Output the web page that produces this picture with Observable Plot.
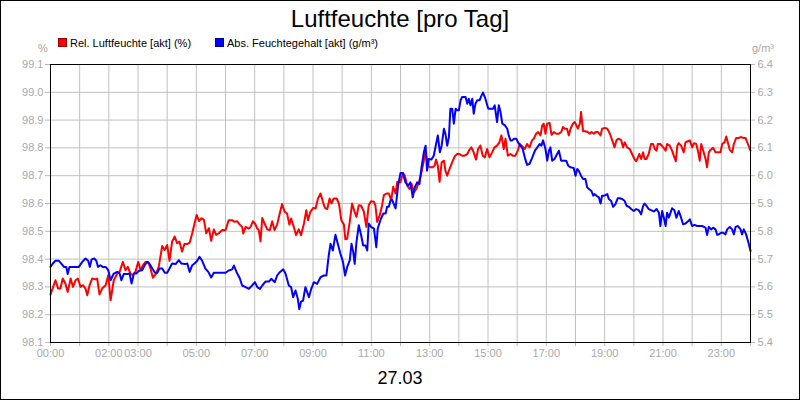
<!DOCTYPE html>
<html>
<head>
<meta charset="utf-8">
<script src="https://cdn.jsdelivr.net/npm/d3@7"></script>
<script src="https://cdn.jsdelivr.net/npm/@observablehq/plot@0.6"></script>
<style>
  body { margin: 0; background: #fff; }
  #wrap { position: relative; width: 800px; height: 400px; background: #fff; font-family: "Liberation Sans", Arial, sans-serif; overflow: hidden; }
  #wrap svg { position: absolute; left: 0; top: 0; }
  .abs { position: absolute; white-space: nowrap; }
  #title { left: 0; width: 800px; top: 4px; text-align: center; font-size: 24px; line-height: 30px; color: #000; }
  #date { left: 0; width: 800px; top: 368px; text-align: center; font-size: 18px; line-height: 20px; color: #000; }
  .leg { top: 37px; font-size: 11px; line-height: 13px; color: #000; }
  .sw { display: inline-block; width: 7px; height: 7px; margin-right: 3px; vertical-align: 0px; }
  .unit { top: 42px; font-size: 11px; line-height: 13px; color: #a8a8a8; }
  #border { left: 0; top: 0; width: 800px; height: 400px; box-sizing: border-box; border: 1px solid #000; pointer-events: none; }
</style>
</head>
<body>
<div id="wrap"></div>
<script>
// ---- data ----
const titleText = "Luftfeuchte [pro Tag]";
const dateText = "27.03";
const seriesNames = ["Rel. Luftfeuchte [akt] (%)", "Abs. Feuchtegehalt [akt] (g/m³)"];
const seriesColors = ["#ff0000", "#0000ff"];
const leftTicks = [98.1, 98.2, 98.3, 98.4, 98.5, 98.6, 98.7, 98.8, 98.9, 99.0, 99.1];
const rightTicks = [5.4, 5.5, 5.6, 5.7, 5.8, 5.9, 6.0, 6.1, 6.2, 6.3, 6.4];
const hourTicks = [0,1,2,3,4,5,6,7,8,9,10,11,12,13,14,15,16,17,18,19,20,21,22,23,24];
const labelledHours = [0, 2, 3, 5, 7, 9, 11, 13, 15, 17, 19, 21, 23];

// [hour, %]
const relHumidity = [
[0.00,98.272],[0.17,98.324],[0.26,98.294],[0.34,98.294],[0.42,98.330],[0.51,98.312],[0.59,98.282],[0.69,98.330],[0.77,98.300],[0.86,98.324],[0.94,98.330],[1.03,98.300],[1.11,98.306],[1.20,98.294],[1.26,98.270],[1.34,98.306],[1.43,98.330],[1.54,98.327],[1.60,98.330],[1.68,98.273],[1.77,98.294],[1.89,98.306],[1.98,98.342],[2.06,98.252],[2.17,98.324],[2.29,98.348],[2.37,98.354],[2.48,98.390],[2.57,98.360],[2.65,98.372],[2.74,98.348],[2.82,98.342],[2.91,98.354],[3.01,98.390],[3.09,98.360],[3.17,98.378],[3.26,98.390],[3.35,98.390],[3.43,98.366],[3.51,98.333],[3.62,98.348],[3.71,98.372],[3.83,98.447],[3.91,98.433],[4.00,98.451],[4.08,98.394],[4.17,98.463],[4.26,98.481],[4.34,98.457],[4.42,98.463],[4.51,98.427],[4.59,98.454],[4.69,98.454],[4.77,98.459],[4.86,98.493],[4.94,98.529],[5.01,98.559],[5.09,98.537],[5.18,98.547],[5.26,98.541],[5.34,98.493],[5.43,98.511],[5.51,98.466],[5.60,98.507],[5.68,98.487],[5.77,98.493],[5.89,98.505],
[6.00,98.504],[6.11,98.540],[6.23,98.540],[6.31,98.534],[6.40,98.536],[6.49,98.524],[6.57,98.516],[6.61,98.492],[6.69,98.516],[6.80,98.510],[6.86,98.516],[6.94,98.536],[7.01,98.528],[7.09,98.510],[7.14,98.504],[7.20,98.464],[7.26,98.548],[7.34,98.528],[7.43,98.507],[7.52,98.504],[7.60,98.536],[7.68,98.504],[7.77,98.524],[7.86,98.564],[7.94,98.598],[8.03,98.570],[8.11,98.564],[8.19,98.524],[8.25,98.546],[8.34,98.516],[8.42,98.486],[8.51,98.507],[8.59,98.486],[8.69,98.528],[8.77,98.576],[8.83,98.540],[8.91,98.570],[9.01,98.584],[9.09,98.582],[9.17,98.618],[9.26,98.636],[9.34,98.606],[9.41,98.584],[9.49,98.580],[9.57,98.618],[9.63,98.600],[9.71,98.618],[9.81,98.618],[9.89,98.600],[9.97,98.540],[10.06,98.524],[10.11,98.471],[10.17,98.473],[10.26,98.534],[10.34,98.600],[10.42,98.572],[10.49,98.552],[10.57,98.594],[10.65,98.592],[10.74,98.572],[10.83,98.516],[10.91,98.594],[10.99,98.608],[11.09,98.606],[11.14,98.592],[11.20,98.534],[11.29,98.558],[11.37,98.594],[11.43,98.630],[11.52,98.636],[11.60,98.636],[11.68,98.612],[11.75,98.660],[11.83,98.636],[11.89,98.678],
[12.00,98.676],[12.08,98.710],[12.15,98.700],[12.23,98.664],[12.31,98.652],[12.38,98.670],[12.46,98.640],[12.54,98.652],[12.63,98.676],[12.72,98.712],[12.80,98.754],[12.86,98.790],[12.94,98.736],[13.01,98.730],[13.09,98.730],[13.17,98.736],[13.22,98.758],[13.28,98.736],[13.34,98.678],[13.41,98.748],[13.49,98.754],[13.54,98.718],[13.60,98.700],[13.68,98.724],[13.77,98.748],[13.86,98.770],[13.94,98.778],[14.02,98.778],[14.11,98.772],[14.19,98.772],[14.29,98.778],[14.37,98.794],[14.43,98.802],[14.51,98.784],[14.59,98.758],[14.66,98.796],[14.74,98.808],[14.82,98.772],[14.89,98.766],[14.97,98.796],[15.05,98.766],[15.14,98.784],[15.22,98.802],[15.31,98.808],[15.39,98.820],[15.46,98.845],[15.54,98.796],[15.60,98.833],[15.68,98.772],[15.77,98.778],[15.85,98.772],[15.94,98.772],[16.02,98.790],[16.09,98.814],[16.17,98.806],[16.26,98.796],[16.34,98.814],[16.42,98.802],[16.51,98.827],[16.57,98.833],[16.65,98.851],[16.72,98.857],[16.80,98.845],[16.86,98.881],[16.91,98.887],[16.97,98.851],[17.03,98.887],[17.11,98.890],[17.18,98.847],[17.26,98.857],[17.34,98.851],[17.43,98.851],[17.51,98.857],[17.57,98.875],[17.63,98.869],[17.71,98.869],[17.77,98.845],[17.83,98.869],[17.91,98.887],
[17.97,98.893],[18.03,98.881],[18.08,98.869],[18.15,98.887],[18.19,98.929],[18.26,98.860],[18.34,98.860],[18.42,98.857],[18.49,98.851],[18.55,98.857],[18.63,98.851],[18.69,98.857],[18.77,98.857],[18.86,98.845],[18.91,98.869],[19.01,98.872],[19.09,98.869],[19.18,98.851],[19.26,98.827],[19.34,98.802],[19.41,98.829],[19.49,98.833],[19.57,98.827],[19.63,98.802],[19.69,98.820],[19.77,98.802],[19.86,98.796],[19.94,98.778],[20.02,98.760],[20.08,98.752],[20.14,98.766],[20.19,98.778],[20.25,98.760],[20.32,98.784],[20.37,98.760],[20.43,98.760],[20.51,98.778],[20.59,98.814],[20.66,98.814],[20.72,98.796],[20.78,98.790],[20.82,98.814],[20.91,98.814],[21.01,98.802],[21.09,98.790],[21.14,98.814],[21.23,98.808],[21.31,98.790],[21.39,98.766],[21.44,98.752],[21.49,98.808],[21.54,98.817],[21.62,98.808],[21.71,98.784],[21.77,98.820],[21.85,98.824],[21.92,98.827],[22.00,98.802],[22.06,98.817],[22.14,98.814],[22.21,98.784],[22.26,98.754],[22.31,98.814],[22.38,98.790],[22.46,98.760],[22.51,98.730],[22.57,98.784],[22.63,98.793],[22.72,98.800],[22.80,98.784],[22.88,98.784],[22.97,98.784],[23.03,98.814],[23.11,98.820],[23.17,98.841],[23.22,98.820],[23.29,98.793],[23.37,98.784],[23.43,98.814],[23.51,98.836],[23.60,98.836],[23.68,98.839],[23.75,98.836],[23.83,98.836],[23.91,98.814],[24.00,98.790]
];

// [hour, g/m³]
const absHumidity = [
[0.00,5.672],[0.08,5.684],[0.17,5.694],[0.29,5.694],[0.37,5.684],[0.46,5.672],[0.54,5.672],[0.59,5.646],[0.65,5.672],[0.80,5.672],[0.97,5.672],[1.09,5.690],[1.20,5.702],[1.29,5.694],[1.35,5.672],[1.41,5.699],[1.50,5.702],[1.57,5.694],[1.63,5.672],[1.71,5.678],[1.79,5.672],[1.89,5.672],[1.98,5.660],[2.06,5.624],[2.17,5.648],[2.29,5.654],[2.37,5.648],[2.43,5.624],[2.51,5.646],[2.63,5.646],[2.71,5.648],[2.78,5.612],[2.86,5.648],[2.94,5.648],[3.03,5.658],[3.14,5.660],[3.23,5.678],[3.31,5.690],[3.39,5.684],[3.49,5.666],[3.58,5.651],[3.66,5.651],[3.74,5.666],[3.83,5.666],[3.92,5.651],[4.00,5.651],[4.08,5.666],[4.17,5.684],[4.29,5.682],[4.40,5.696],[4.49,5.684],[4.61,5.682],[4.69,5.684],[4.77,5.654],[4.86,5.678],[4.94,5.684],[5.03,5.694],[5.11,5.708],[5.20,5.694],[5.31,5.666],[5.41,5.654],[5.51,5.634],[5.60,5.651],[5.71,5.651],[5.89,5.651],
[6.00,5.651],[6.11,5.659],[6.23,5.663],[6.29,5.677],[6.38,5.653],[6.49,5.631],[6.57,5.605],[6.69,5.599],[6.80,5.593],[6.91,5.605],[7.01,5.617],[7.09,5.599],[7.18,5.593],[7.26,5.605],[7.37,5.619],[7.49,5.619],[7.57,5.629],[7.63,5.623],[7.69,5.617],[7.77,5.641],[7.86,5.653],[7.98,5.663],[8.06,5.647],[8.17,5.605],[8.25,5.599],[8.32,5.563],[8.40,5.587],[8.48,5.557],[8.53,5.520],[8.59,5.547],[8.66,5.551],[8.74,5.599],[8.80,5.581],[8.86,5.563],[8.94,5.593],[9.03,5.617],[9.14,5.611],[9.26,5.635],[9.37,5.641],[9.46,5.641],[9.54,5.713],[9.60,5.755],[9.68,5.731],[9.77,5.788],[9.85,5.755],[9.94,5.719],[10.03,5.689],[10.10,5.641],[10.17,5.671],[10.26,5.695],[10.32,5.755],[10.38,5.725],[10.43,5.683],[10.49,5.761],[10.57,5.822],[10.65,5.786],[10.72,5.749],[10.80,5.749],[10.86,5.731],[10.91,5.828],[10.99,5.816],[11.09,5.810],[11.17,5.743],[11.22,5.810],[11.31,5.840],[11.41,5.864],[11.49,5.864],[11.54,5.888],[11.60,5.888],[11.66,5.912],[11.71,5.914],[11.83,5.882],[11.92,5.966],
[12.00,6.010],[12.08,6.010],[12.17,5.976],[12.26,5.964],[12.34,5.976],[12.42,5.922],[12.49,5.958],[12.57,5.976],[12.65,5.970],[12.72,6.030],[12.80,6.084],[12.86,6.108],[12.91,6.018],[12.97,6.060],[13.06,6.058],[13.14,6.072],[13.22,6.114],[13.28,6.145],[13.35,6.084],[13.41,6.108],[13.49,6.169],[13.54,6.151],[13.60,6.108],[13.66,6.139],[13.71,6.241],[13.77,6.241],[13.83,6.187],[13.89,6.241],[13.94,6.235],[14.00,6.235],[14.06,6.271],[14.11,6.283],[14.23,6.283],[14.29,6.259],[14.34,6.277],[14.40,6.253],[14.46,6.277],[14.51,6.223],[14.57,6.259],[14.63,6.271],[14.71,6.271],[14.78,6.289],[14.83,6.299],[14.91,6.277],[15.01,6.241],[15.09,6.241],[15.17,6.241],[15.23,6.253],[15.31,6.193],[15.37,6.253],[15.43,6.229],[15.49,6.187],[15.58,6.181],[15.66,6.169],[15.71,6.145],[15.77,6.127],[15.83,6.127],[15.89,6.133],[15.97,6.133],[16.03,6.120],[16.11,6.108],[16.19,6.096],[16.26,6.066],[16.34,6.039],[16.42,6.042],[16.51,6.063],[16.61,6.090],[16.69,6.102],[16.77,6.114],[16.83,6.108],[16.89,6.127],[16.97,6.096],[17.03,6.054],[17.09,6.090],[17.14,6.102],[17.20,6.054],[17.28,6.060],[17.37,6.078],[17.43,6.090],[17.51,6.054],[17.60,6.054],[17.68,6.054],[17.75,6.036],[17.83,6.030],
[17.94,6.028],[18.00,6.000],[18.06,6.024],[18.11,6.018],[18.19,6.000],[18.26,5.988],[18.34,5.988],[18.40,5.958],[18.46,5.952],[18.54,5.946],[18.61,5.928],[18.65,5.934],[18.72,5.928],[18.80,5.922],[18.86,5.900],[18.91,5.928],[18.97,5.928],[19.03,5.930],[19.09,5.934],[19.14,5.916],[19.22,5.910],[19.29,5.888],[19.37,5.898],[19.45,5.919],[19.52,5.919],[19.60,5.916],[19.68,5.910],[19.75,5.892],[19.83,5.888],[19.91,5.880],[20.00,5.873],[20.08,5.880],[20.17,5.876],[20.25,5.861],[20.32,5.892],[20.37,5.900],[20.43,5.892],[20.51,5.880],[20.59,5.876],[20.69,5.871],[20.78,5.880],[20.86,5.867],[20.91,5.819],[20.97,5.873],[21.03,5.849],[21.09,5.819],[21.14,5.867],[21.20,5.849],[21.26,5.867],[21.31,5.883],[21.39,5.876],[21.46,5.849],[21.54,5.873],[21.62,5.849],[21.69,5.825],[21.77,5.828],[21.85,5.835],[21.92,5.843],[22.00,5.819],[22.08,5.823],[22.17,5.819],[22.26,5.819],[22.34,5.819],[22.40,5.816],[22.46,5.813],[22.51,5.787],[22.57,5.816],[22.65,5.807],[22.72,5.813],[22.80,5.807],[22.86,5.787],[22.91,5.789],[22.99,5.795],[23.06,5.795],[23.14,5.789],[23.20,5.807],[23.29,5.816],[23.37,5.807],[23.43,5.789],[23.49,5.816],[23.57,5.819],[23.66,5.807],[23.71,5.789],[23.77,5.807],[23.85,5.789],[23.94,5.755],[24.00,5.729]
];

// ---- chart ----
// right axis (g/m³) shares the left scale, shifted so 5.4 aligns with 98.1
const shift = leftTicks[0] - rightTicks[0];
const pad2 = h => String(h).padStart(2, "0") + ":00";

const chart = Plot.plot({
  width: 800,
  height: 400,
  marginLeft: 50,
  marginRight: 50,
  marginTop: 64,
  marginBottom: 58,
  style: { fontFamily: "'Liberation Sans', Arial, sans-serif", fontSize: "11px", color: "#a8a8a8", background: "transparent", overflow: "visible" },
  x: { domain: [0, 24] },
  y: { domain: [leftTicks[0], leftTicks[leftTicks.length - 1]] },
  marks: [
    Plot.gridX(hourTicks, { stroke: "#c0c0c0", strokeOpacity: 1 }),
    Plot.gridY(leftTicks, { stroke: "#c0c0c0", strokeOpacity: 1 }),
    Plot.axisX(hourTicks, {
      tickSize: 4, tickPadding: 3, stroke: "#b8b8b8", fill: "#a8a8a8", label: null,
      tickFormat: h => labelledHours.includes(h) ? pad2(h) : ""
    }),
    Plot.axisY(leftTicks, {
      anchor: "left", tickSize: 5, tickPadding: 2, stroke: "#b8b8b8", fill: "#a8a8a8", label: null,
      tickFormat: d => d.toFixed(1)
    }),
    Plot.axisY(rightTicks.map(v => v + shift), {
      anchor: "right", tickSize: 4, tickPadding: 3, stroke: "#b8b8b8", fill: "#a8a8a8", label: null,
      tickFormat: d => (d - shift).toFixed(1)
    }),
    Plot.line(relHumidity, { x: d => d[0], y: d => d[1], stroke: seriesColors[0], strokeWidth: 2, curve: "linear" }),
    Plot.line(absHumidity, { x: d => d[0], y: d => d[1] + shift, stroke: seriesColors[1], strokeWidth: 2, curve: "linear" }),
    Plot.frame({ stroke: "#000", strokeWidth: 1 })
  ]
});

const wrap = document.getElementById("wrap");
wrap.appendChild(chart);

function addDiv(id, cls, html, style) {
  const d = document.createElement("div");
  if (id) d.id = id;
  d.className = "abs " + (cls || "");
  d.innerHTML = html;
  Object.assign(d.style, style || {});
  wrap.appendChild(d);
  return d;
}
addDiv("title", "", titleText);
addDiv("date", "", dateText);
addDiv(null, "leg", `<span class="sw" style="background:${seriesColors[0]};border:1px solid #900"></span>${seriesNames[0]}`, { left: "58px" });
addDiv(null, "leg", `<span class="sw" style="background:${seriesColors[1]};border:1px solid #009"></span>${seriesNames[1]}`, { left: "215px" });
addDiv(null, "unit", "%", { left: "38px" });
addDiv(null, "unit", "g/m³", { left: "752px" });
addDiv("border", "", "");
</script>
</body>
</html>
